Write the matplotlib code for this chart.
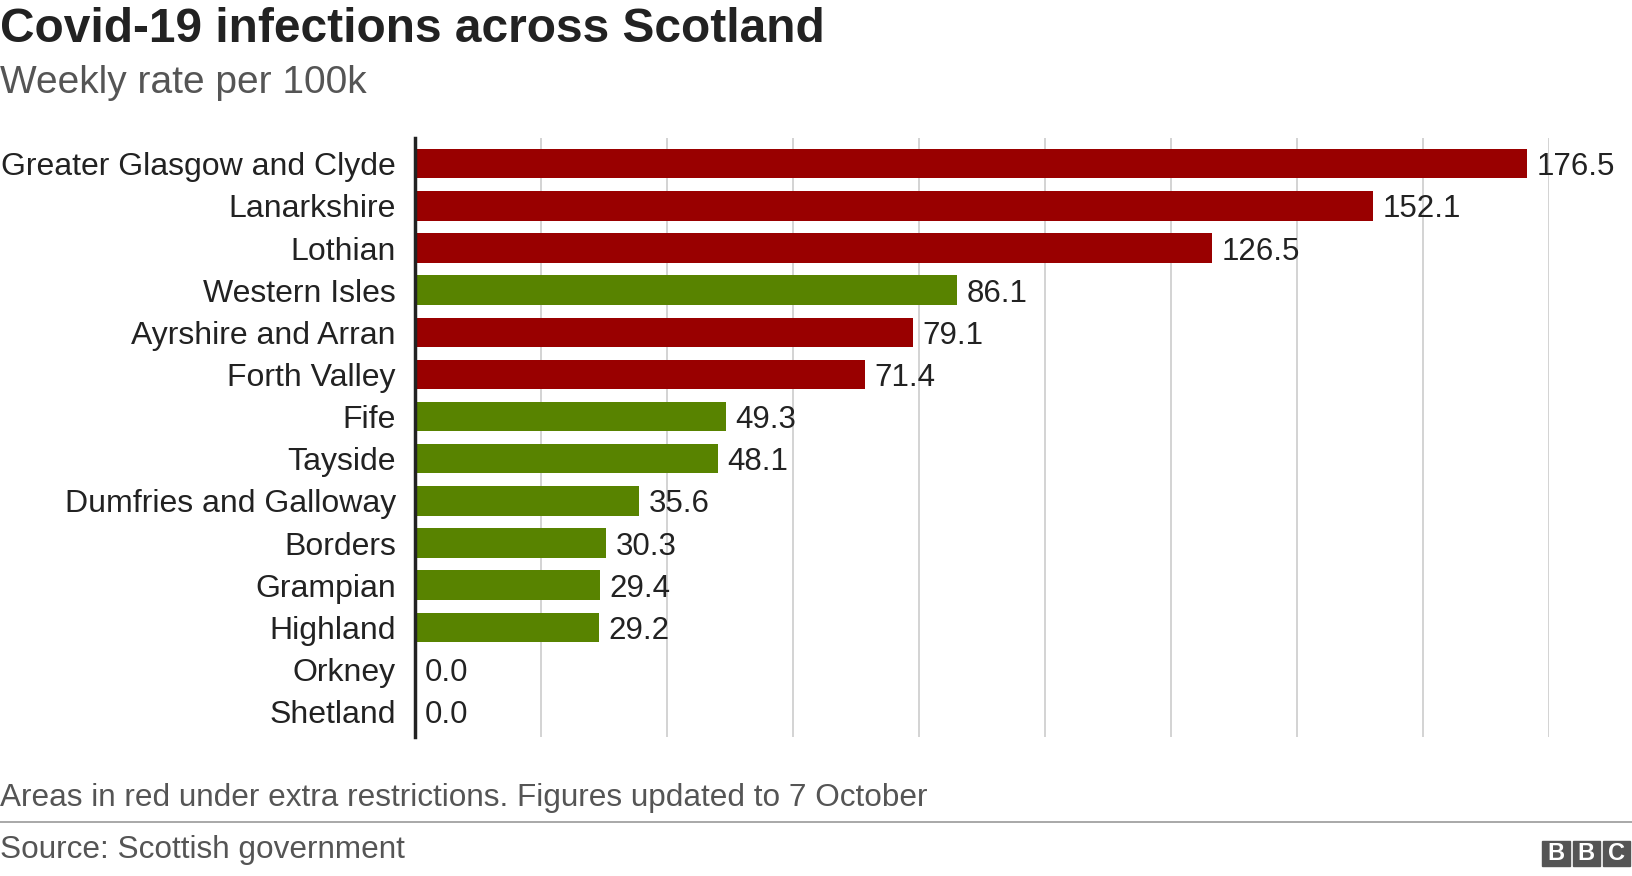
import matplotlib.pyplot as plt
from matplotlib.patches import Rectangle

plt.rcParams["font.family"] = "Liberation Sans"

areas = ["Greater Glasgow and Clyde", "Lanarkshire", "Lothian", "Western Isles",
         "Ayrshire and Arran", "Forth Valley", "Fife", "Tayside",
         "Dumfries and Galloway", "Borders", "Grampian", "Highland",
         "Orkney", "Shetland"]
rates = [176.5, 152.1, 126.5, 86.1, 79.1, 71.4, 49.3, 48.1, 35.6, 30.3, 29.4, 29.2, 0.0, 0.0]
restricted = [True, True, True, False, True, True, False, False,
              False, False, False, False, False, False]

RED = "#990000"
GREEN = "#588300"
W, H = 1568, 876 * 1568 / 1632  # reference coordinates measured on a 1568-wide view

fig = plt.figure(figsize=(16.32, 8.76), dpi=100)
ax = fig.add_axes([399 / W, 1 - 708 / H, 1089 / W, 575 / H])

y = list(range(len(areas)))
colors = [RED if r else GREEN for r in restricted]
ax.barh(y, rates, height=0.7, color=colors, zorder=2)
for yi, v in zip(y, rates):
    ax.text(v + 1.5, yi, f"{v:.1f}", va="center_baseline", ha="left", fontsize=22.5,
            color="#222222")

ax.set_xlim(0, 180)
ax.set_ylim(len(areas) - 0.5 + 0.1, -0.5 - 0.1)
ax.set_xticks(range(20, 181, 20))
ax.set_xticklabels([])
ax.tick_params(axis="x", length=0)
ax.grid(axis="x", color="#cccccc", linewidth=1.2, zorder=0)
ax.set_yticks(y)
ax.set_yticklabels(areas, fontsize=23, color="#222222", va="center_baseline")
ax.tick_params(axis="y", length=0, pad=14)
for s in ["top", "right", "bottom"]:
    ax.spines[s].set_visible(False)
ax.spines["left"].set_linewidth(2.5)
ax.spines["left"].set_color("#222222")
ax.spines["left"].set_zorder(3)

fig.text(0.0, 1 - 28 / H, "Covid-19 infections across Scotland", fontsize=34.5,
         fontweight="bold", va="center", ha="left", color="#222222")
fig.text(0.0, 1 - 80 / H, "Weekly rate per 100k", fontsize=28, va="center",
         ha="left", color="#555555")
fig.text(0.0, 1 - 767 / H, "Areas in red under extra restrictions. Figures updated to 7 October",
         fontsize=22.7, va="center", ha="left", color="#555555")
fig.add_artist(plt.Line2D([0, 1], [1 - 790 / H] * 2, color="#999999", linewidth=1.2))
fig.text(0.0, 1 - 817 / H, "Source: Scottish government", fontsize=22.7, va="center",
         ha="left", color="#555555")

# BBC logo
for i, ch in enumerate("BBC"):
    x0 = 1482 + i * 29
    fig.add_artist(Rectangle((x0 / W, 1 - 832 / H), 26 / W, 24 / H,
                             transform=fig.transFigure, color="#555555"))
    fig.text((x0 + 13) / W, 1 - 820 / H, ch, fontsize=17, fontweight="bold",
             color="white", ha="center", va="center")

fig.savefig("out.png", dpi=100)
